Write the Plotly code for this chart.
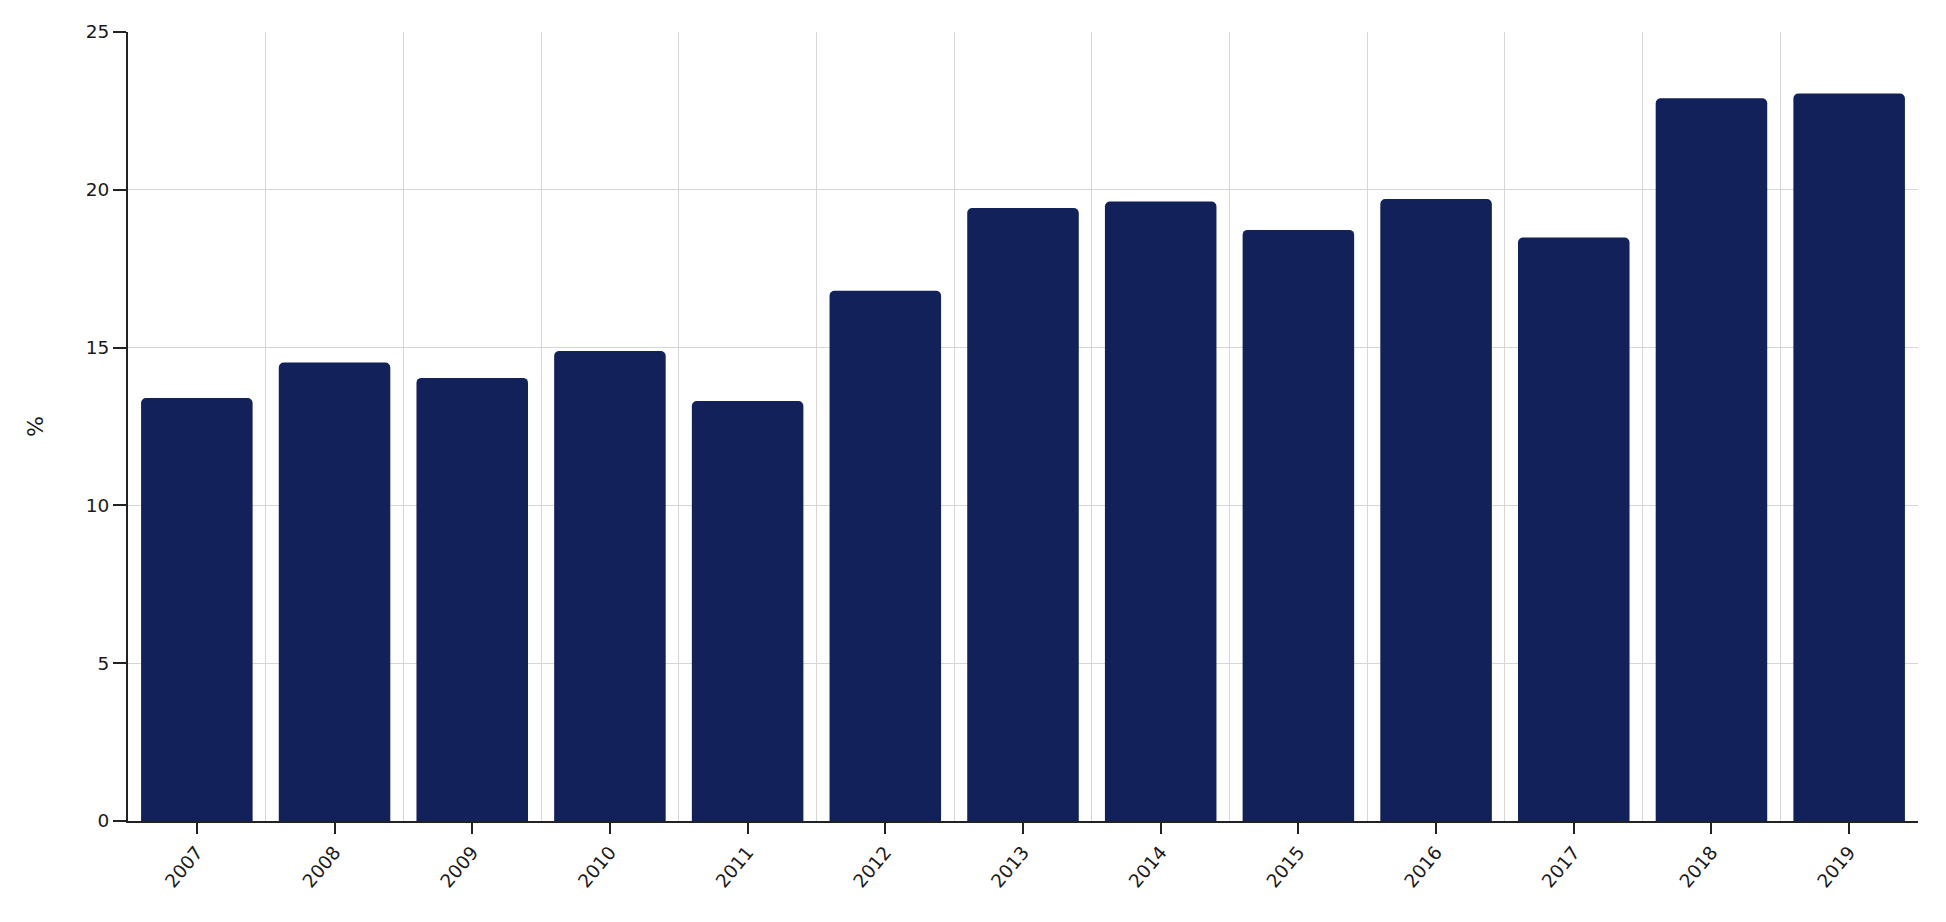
import plotly.graph_objects as go

years = [2007, 2008, 2009, 2010, 2011, 2012, 2013, 2014, 2015, 2016, 2017, 2018, 2019]
values = [13.4, 14.53, 14.04, 14.89, 13.31, 16.8, 19.42, 19.63, 18.73, 19.71, 18.49, 22.9, 23.05]
tick_labels = [str(y) for y in years]
y_ticks = [0, 5, 10, 15, 20, 25]

fig = go.Figure(go.Bar(
    x=years, y=values,
    marker=dict(color="#12215a", line=dict(width=0)),
    hovertemplate="%{x}: %{y}%<extra></extra>",
))

font = dict(family="DejaVu Sans", size=18.5, color="#1a1a1a")

fig.update_layout(
    width=1946, height=922,
    margin=dict(l=120, r=36, t=24, b=109),
    paper_bgcolor="white", plot_bgcolor="white",
    bargap=0.19, barcornerradius=5,
    showlegend=False,
    font=font,
    xaxis=dict(
        range=[2006.5, 2019.5],
        tickvals=years, ticktext=tick_labels, tickangle=-50,
        showgrid=False, zeroline=False,
        showline=True, linecolor="#222", linewidth=2,
        ticks="outside", ticklen=11, tickwidth=2, tickcolor="#222",
        minor=dict(tick0=2006.5, dtick=1, showgrid=True, gridcolor="#d6d6d6", gridwidth=1, ticks=""),
        fixedrange=True,
    ),
    yaxis=dict(
        range=[0, 25], tickvals=y_ticks,
        showgrid=True, gridcolor="#d6d6d6", gridwidth=1, zeroline=False,
        showline=True, linecolor="#222", linewidth=2,
        ticks="outside", ticklen=13, tickwidth=2, tickcolor="#222",
        title=dict(text="%", standoff=36),
        fixedrange=True,
    ),
)

fig.write_html("out.html")
